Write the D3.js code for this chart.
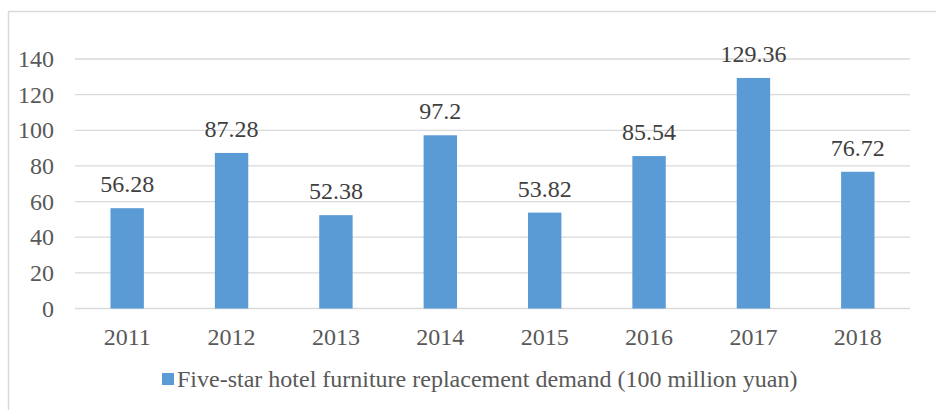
<!DOCTYPE html>
<html><head><meta charset="utf-8">
<script src="https://cdn.jsdelivr.net/npm/d3@7"></script>
<style>body{margin:0;background:#fff}svg{display:block}text{font-family:"Liberation Serif","Times New Roman",serif}</style>
</head><body><svg id="c" width="936" height="410"></svg>
<script>
const categories = ["2011","2012","2013","2014","2015","2016","2017","2018"];
const values = [56.28,87.28,52.38,97.2,53.82,85.54,129.36,76.72];
const valueLabels = ["56.28","87.28","52.38","97.2","53.82","85.54","129.36","76.72"];
const yTicks = [0,20,40,60,80,100,120,140];
const seriesName = "Five-star hotel furniture replacement demand (100 million yuan)";

const svg = d3.select("#c");
svg.append("path").attr("d","M8.5,420 V11.5 H950").attr("fill","none").attr("stroke","#d9d9d9").attr("stroke-width",1.5);

const x = d3.scaleBand().domain(categories).range([75,910]).paddingInner(0.68).paddingOuter(0.34);
const y = d3.scaleLinear().domain([0,140]).range([308.5,59]);

const g = svg.append("g");
g.selectAll("line.grid").data(yTicks).join("line")
  .attr("x1",75).attr("x2",910).attr("y1",d=>y(d)).attr("y2",d=>y(d))
  .attr("stroke","#d9d9d9").attr("stroke-width",1.3);

const yAxis = svg.append("g").attr("transform","translate(75,0)")
  .call(d3.axisLeft(y).tickValues(yTicks).tickSize(0).tickPadding(21));
yAxis.select(".domain").remove();
yAxis.selectAll("text").attr("font-size",24).attr("fill","#595959");

g.selectAll("rect.bar").data(values).join("rect")
  .attr("x",(d,i)=>x(categories[i])).attr("width",x.bandwidth())
  .attr("y",d=>y(d)).attr("height",d=>y(0)-y(d)).attr("fill","#5b9bd5");

g.selectAll("text.lab").data(values).join("text")
  .attr("x",(d,i)=>x(categories[i])+x.bandwidth()/2).attr("y",d=>y(d)-16)
  .attr("text-anchor","middle").attr("font-size",24).attr("fill","#404040")
  .text((d,i)=>valueLabels[i]);

const xAxis = svg.append("g").attr("transform","translate(0,308.5)")
  .call(d3.axisBottom(x).tickSize(0).tickPadding(19));
xAxis.select(".domain").remove();
xAxis.selectAll("text").attr("font-size",24).attr("fill","#595959");

const leg = svg.append("g");
leg.append("rect").attr("x",162).attr("y",373).attr("width",12).attr("height",12).attr("fill","#5b9bd5");
leg.append("text").attr("x",177).attr("y",387).attr("font-size",24).attr("fill","#595959").text(seriesName);
</script></body></html>
